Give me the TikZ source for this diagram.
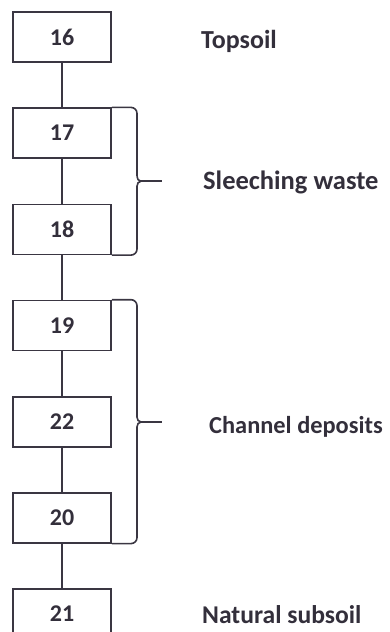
\documentclass[tikz,border=0pt]{standalone}
\usepackage{fontspec}
\setmainfont{Carlito}
\definecolor{ink}{HTML}{3A3642}
\definecolor{txt}{HTML}{332F3B}
\begin{document}
\begin{tikzpicture}[x=1pt,y=1pt,
  layer/.style={draw=ink, line width=1.6pt, minimum width=98pt, minimum height=50pt,
    inner sep=0pt, font=\fontsize{24}{24}\selectfont\bfseries, text=txt},
  link/.style={draw=ink, line width=1.6pt},
  brace/.style={draw=ink, line width=1.6pt, rounded corners=6pt},
  tip/.style={draw=ink, line width=1.6pt},
  label/.style={anchor=base west, inner sep=0pt, text=txt},
  lsize/.style={font=\fontsize{#1}{#1}\selectfont\bfseries}]
\useasboundingbox (0,0) rectangle (390,-632);

% stratigraphic sequence, top to bottom
\node[layer] (b16) at (62,-37)    {16};
\node[layer] (b17) at (62,-133.2) {17};
\node[layer] (b18) at (62,-229.3) {18};
\node[layer] (b19) at (62,-325.5) {19};
\node[layer] (b22) at (62,-421.7) {22};
\node[layer] (b20) at (62,-517.8) {20};
\node[layer] (b21) at (62,-614)   {21};

\draw[link] (b16) -- (b17);
\draw[link] (b17) -- (b18);
\draw[link] (b18) -- (b19);
\draw[link] (b19) -- (b22);
\draw[link] (b22) -- (b20);
\draw[link] (b20) -- (b21);

% grouping braces
\coordinate (s1) at (137,-176.2);
\coordinate (s2) at (137,-186.2);
\coordinate (sm) at (141,-181.2);
\coordinate (st) at (162,-181.2);
\draw[brace] (b17.north east) -| (s1);
\draw[brace] (s2) |- (b18.south east);
\draw[tip] (s1) to[out=-90,in=180] (sm) to[out=180,in=90] (s2);
\draw[tip] (sm) -- (st);

\coordinate (c1) at (137,-417);
\coordinate (c2) at (137,-427);
\coordinate (cm) at (141,-422);
\coordinate (ct) at (162,-422);
\draw[brace] (b19.north east) -| (c1);
\draw[brace] (c2) |- (b20.south east);
\draw[tip] (c1) to[out=-90,in=180] (cm) to[out=180,in=90] (c2);
\draw[tip] (cm) -- (ct);

% unit names
\node[label, lsize=26] (l1) at (201,-48)  {Topsoil};
\node[label, lsize=26.5] (l2) at (203,-189) {Sleeching waste};
\node[label, lsize=24.4] (l3) at (209,-433) {Channel deposits};
\node[label, lsize=25.6] (l4) at (202,-623) {Natural subsoil};
\end{tikzpicture}
\end{document}
